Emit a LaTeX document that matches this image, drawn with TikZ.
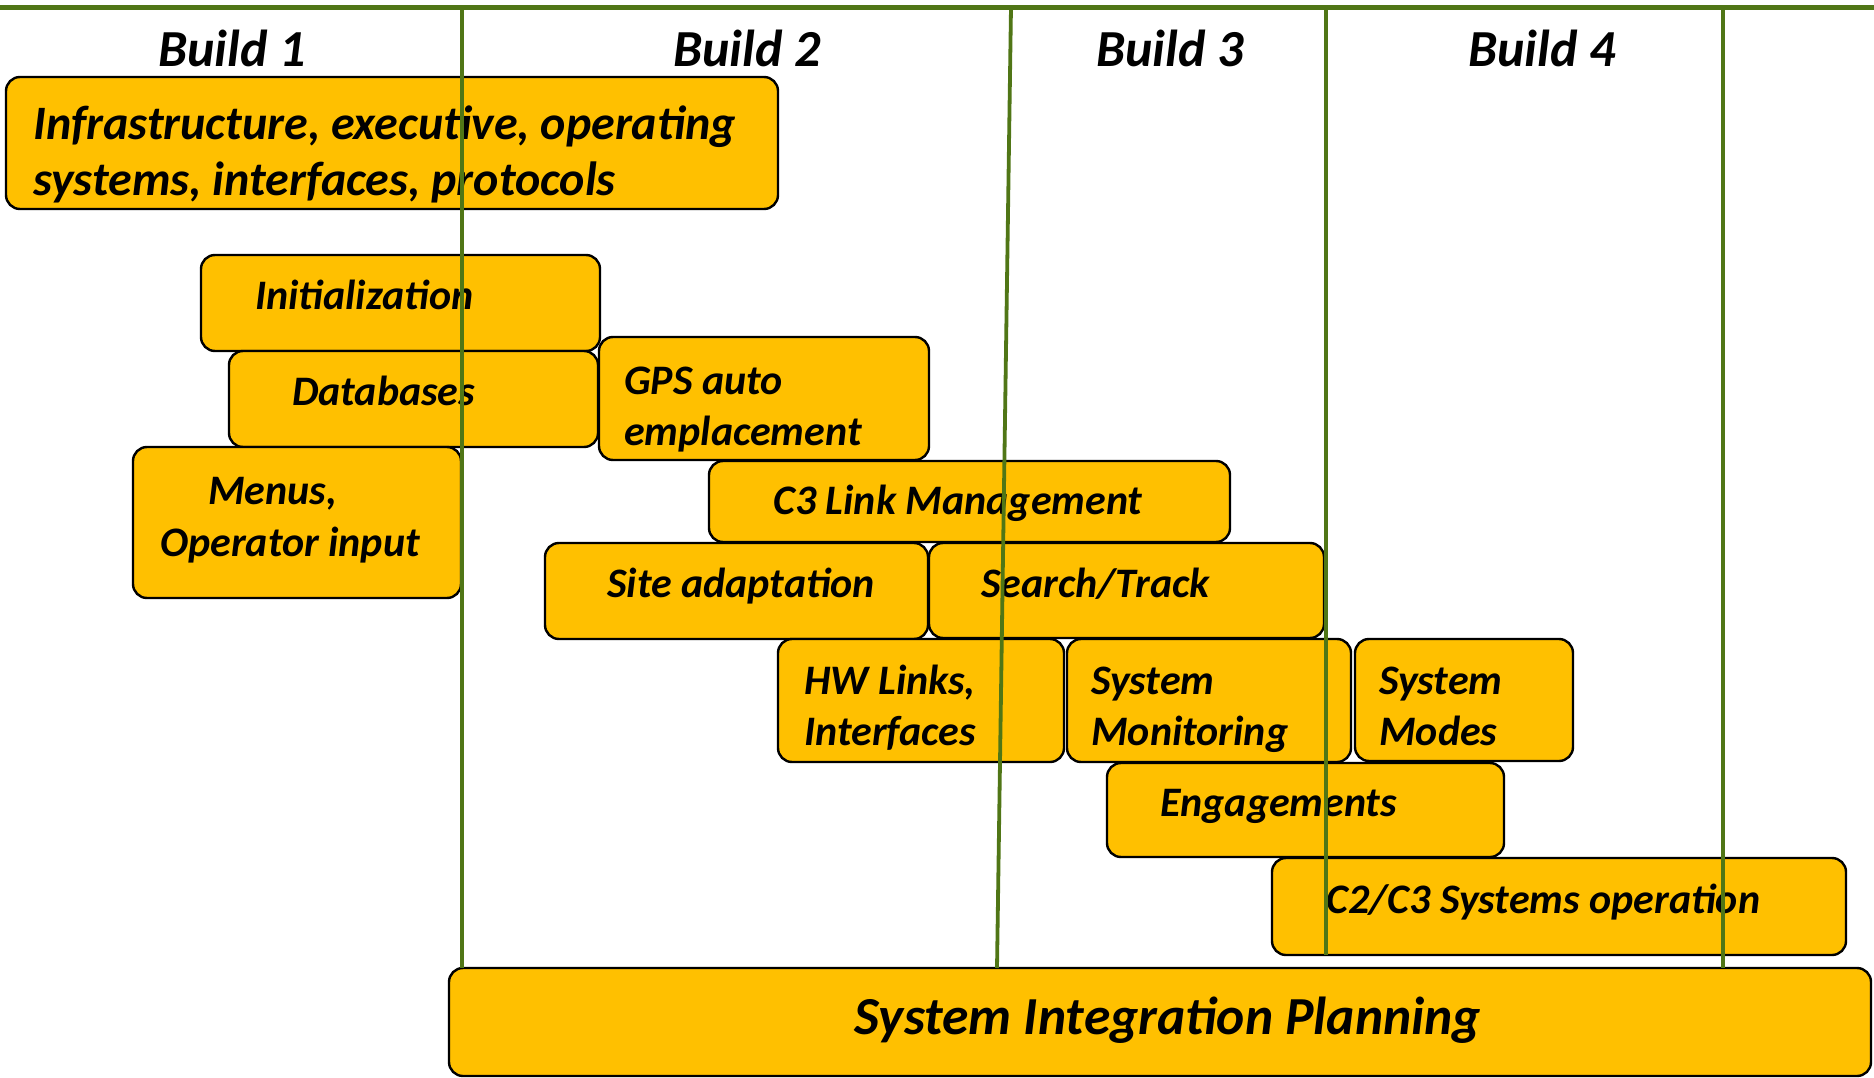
\documentclass[tikz,border=0pt]{standalone}
\usepackage{fontspec}
\setmainfont{Carlito}
\definecolor{gold}{RGB}{255,192,0}
\definecolor{olive}{RGB}{80,118,22}
\begin{document}
\begin{tikzpicture}[x=1pt,y=-1pt,
  box/.style={draw=black, fill=gold, line width=2.4pt, rounded corners=14pt,
    anchor=north west, inner sep=0pt, outer sep=0pt},
  lbl/.style={anchor=base west, inner sep=0pt, font=\fontsize{42}{51}\selectfont\bfseries\itshape},
  biglbl/.style={lbl, font=\fontsize{48}{56}\selectfont\bfseries\itshape},
  head/.style={anchor=base west, inner sep=0pt, font=\fontsize{52}{62}\selectfont\bfseries\itshape},
  grid/.style={draw=olive, line width=3.8pt}]
\useasboundingbox (0,0) rectangle (1874,1078);

% task boxes
\node[box, minimum width=772pt, minimum height=132pt] (infra) at (6,77) {};
\node[box, minimum width=399pt, minimum height=96pt] (init) at (201,255) {};
\node[box, minimum width=369pt, minimum height=96pt] (db) at (229,351) {};
\node[box, minimum width=330pt, minimum height=123pt] (gps) at (599,337) {};
\node[box, minimum width=328pt, minimum height=151pt] (menus) at (133,447) {};
\node[box, minimum width=521pt, minimum height=81pt] (c3) at (709,461) {};
\node[box, minimum width=383pt, minimum height=96pt] (site) at (545,543) {};
\node[box, minimum width=395pt, minimum height=95pt] (search) at (929,543) {};
\node[box, minimum width=286pt, minimum height=123pt] (hw) at (778,639) {};
\node[box, minimum width=284pt, minimum height=123pt] (sysmon) at (1067,639) {};
\node[box, minimum width=218pt, minimum height=122pt] (sysmodes) at (1355,639) {};
\node[box, minimum width=397pt, minimum height=94pt] (engage) at (1107,763) {};
\node[box, minimum width=574pt, minimum height=97pt] (ops) at (1272,858) {};
\node[box, minimum width=1422pt, minimum height=108pt] (sip) at (449,968) {};

% labels
\node[biglbl] (infraA) at (33,140) {Infrastructure, executive, operating};
\node[biglbl] (infraB) at (33,196) {systems, interfaces, protocols};
\node[lbl] (initT) at (255,309) {Initialization};
\node[lbl] (dbT) at (292,405) {Databases};
\node[lbl] (gpsA) at (624,394) {GPS auto};
\node[lbl] (gpsB) at (624,445) {emplacement};
\node[lbl] (menusA) at (208,504) {Menus,};
\node[lbl] (menusB) at (160,556) {Operator input};
\node[lbl] (c3T) at (773,514) {C3 Link Management};
\node[lbl] (siteT) at (607,597) {Site adaptation};
\node[lbl] (searchT) at (981,597) {Search/Track};
\node[lbl] (hwA) at (804,694) {HW Links,};
\node[lbl] (hwB) at (804,745) {Interfaces};
\node[lbl] (sysmonA) at (1091,694) {System};
\node[lbl] (sysmonB) at (1091,745) {Monitoring};
\node[lbl] (sysmodesA) at (1379,694) {System};
\node[lbl] (sysmodesB) at (1379,745) {Modes};
\node[lbl] (engageT) at (1160,816) {Engagements};
\node[lbl] (opsT) at (1326,913) {C2/C3 Systems operation};
\node[head, anchor=base, font=\fontsize{53.5}{62}\selectfont\bfseries\itshape] (sipT) at (1168,1034) {System Integration Planning};

% build headers
\node[head] (b1) at (158,67) {Build 1};
\node[head] (b2) at (673,67) {Build 2};
\node[head] (b3) at (1096,67) {Build 3};
\node[head] (b4) at (1468,67) {Build 4};

% build boundaries, drawn over the boxes
\coordinate (tl) at (0,7.5);
\coordinate (tr) at (1874,7.5);
\draw[grid, line width=5pt] (tl) -- (tr);
\coordinate (v1t) at (462,7);
\coordinate (v2t) at (1011,7);
\coordinate (v2b) at (997,968);
\coordinate (v3t) at (1326,7);
\coordinate (v4t) at (1723,7);
\draw[grid] (v1t) -- (v1t |- sip.north);
\draw[grid] (v2t) -- (v2b);
\draw[grid] (v3t) -- (v3t |- ops.south);
\draw[grid] (v4t) -- (v4t |- sip.north);
\end{tikzpicture}
\end{document}
